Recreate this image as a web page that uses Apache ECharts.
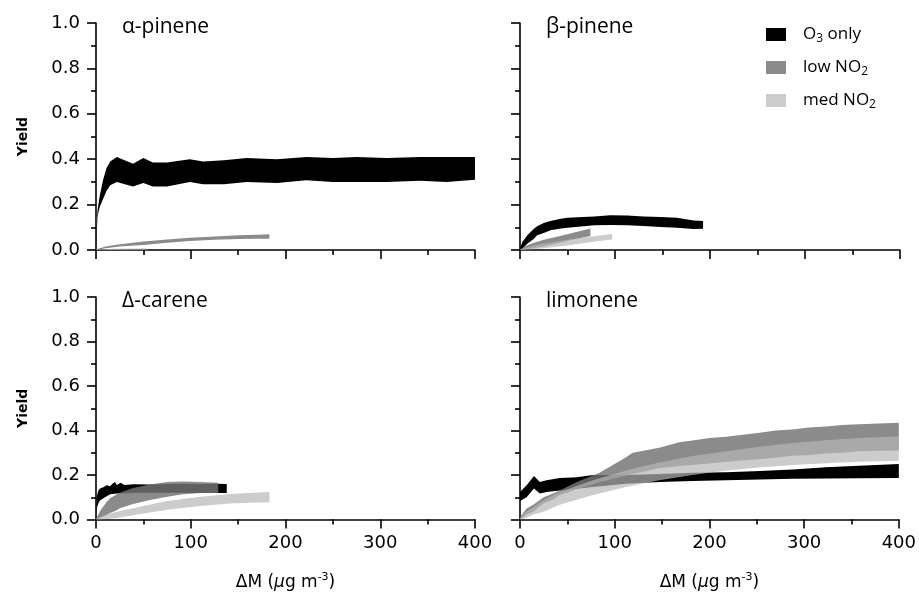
<!DOCTYPE html>
<html>
<head>
<meta charset="utf-8">
<script src="https://cdn.jsdelivr.net/npm/echarts@6/dist/echarts.min.js"></script>
<style>
  html, body { margin: 0; padding: 0; background: #fff; }
  #chart { width: 919px; height: 592px; }
</style>
</head>
<body>
<div id="chart"></div>
<script>
// each band point: [ΔM, lower yield, upper yield]
const alphaO3 = [[0,0,0.03],[1.5,0.14,0.17],[2.5,0.165,0.2],[4,0.19,0.24],[7.5,0.225,0.31],[11,0.26,0.36],[15,0.285,0.39],[22,0.30,0.41],[39,0.28,0.38],[50,0.295,0.405],[60,0.28,0.385],[75,0.28,0.385],[99,0.30,0.40],[113,0.29,0.39],[135,0.29,0.395],[159,0.30,0.405],[191,0.295,0.40],[222,0.307,0.41],[250,0.30,0.405],[275,0.30,0.41],[307,0.30,0.405],[342,0.305,0.41],[370,0.30,0.41],[400,0.31,0.41]];
const alphaLow = [[0,0,0.002],[10,0.008,0.015],[25,0.015,0.025],[50,0.022,0.037],[75,0.032,0.046],[99,0.04,0.054],[125,0.045,0.06],[150,0.048,0.065],[170,0.05,0.067],[183,0.05,0.069]];
const alphaMed = [[0,0,0.002],[20,0,0.006],[54,0.001,0.008]];

const betaO3 = [[0,0,0.01],[2.5,0.006,0.035],[7.7,0.028,0.065],[14.7,0.05,0.094],[18,0.065,0.105],[25,0.075,0.119],[32,0.087,0.128],[43,0.095,0.138],[50,0.098,0.142],[78,0.109,0.148],[95,0.11,0.153],[113,0.109,0.152],[130,0.106,0.148],[148,0.101,0.145],[165,0.098,0.142],[183,0.093,0.13],[192.7,0.094,0.128]];
const betaLow = [[0,0,0.003],[10,0.005,0.025],[25,0.015,0.045],[40,0.03,0.06],[55,0.045,0.075],[74,0.062,0.095]];
const betaMed = [[0,0,0.002],[20,0.005,0.025],[50,0.02,0.045],[75,0.035,0.06],[97,0.046,0.07]];

const careneO3 = [[0,0,0.02],[0.7,0.05,0.1],[2.5,0.073,0.13],[4.2,0.085,0.139],[7.7,0.095,0.145],[11.3,0.105,0.154],[15,0.113,0.15],[17,0.115,0.16],[20,0.116,0.168],[22,0.117,0.155],[26,0.117,0.165],[30,0.118,0.155],[40,0.12,0.158],[57,0.12,0.157],[75,0.12,0.16],[92,0.12,0.161],[110,0.119,0.16],[127,0.119,0.161],[138,0.119,0.16]];
const careneLow = [[0,0,0.002],[4.2,0.007,0.037],[11.3,0.02,0.08],[15,0.029,0.095],[22,0.042,0.113],[25,0.051,0.12],[39,0.07,0.142],[57,0.088,0.157],[75,0.102,0.168],[92,0.113,0.171],[110,0.119,0.168],[129,0.119,0.165]];
const careneMed = [[0,0,0.002],[11.3,0.002,0.022],[22,0.007,0.035],[39,0.019,0.051],[75,0.044,0.083],[110,0.061,0.102],[145,0.073,0.116],[183,0.078,0.124]];

const limoO3 = [[0,0.083,0.124],[7,0.10,0.154],[14.7,0.139,0.195],[21,0.117,0.168],[28,0.124,0.176],[42,0.13,0.186],[60,0.138,0.19],[77,0.146,0.2],[112,0.161,0.2],[147,0.168,0.205],[182,0.173,0.21],[218,0.176,0.212],[253,0.18,0.218],[288,0.183,0.225],[323,0.184,0.235],[358,0.185,0.242],[400,0.186,0.249]];
const limoLow = [[0,0,0.01],[7,0.022,0.05],[14,0.035,0.066],[25,0.073,0.1],[35,0.09,0.117],[42,0.11,0.13],[60,0.136,0.168],[84,0.168,0.21],[88,0.172,0.22],[112,0.198,0.28],[119,0.205,0.30],[147,0.23,0.322],[168,0.24,0.347],[182,0.245,0.355],[200,0.252,0.366],[218,0.259,0.372],[235,0.265,0.381],[253,0.271,0.39],[270,0.278,0.40],[288,0.286,0.405],[305,0.29,0.414],[323,0.297,0.418],[340,0.30,0.425],[358,0.307,0.428],[400,0.31,0.435]];
const limoMed = [[0,0,0.005],[7,0.008,0.037],[14,0.022,0.055],[25,0.035,0.088],[42,0.066,0.124],[77,0.11,0.176],[112,0.146,0.22],[147,0.176,0.256],[182,0.2,0.285],[218,0.22,0.307],[253,0.234,0.327],[288,0.245,0.344],[323,0.253,0.356],[358,0.259,0.366],[400,0.264,0.373]];

const panelNames = ['α-pinene', 'β-pinene', 'Δ-carene', 'limonene'];
const seriesNames = ['O3 only', 'low NO2', 'med NO2'];

const bands = [
  [alphaO3, alphaLow, alphaMed],
  [betaO3, betaLow, betaMed],
  [careneO3, careneLow, careneMed],
  [limoO3, limoLow, limoMed]
];
const colors = ['#000000', 'rgba(116,116,116,0.83)', 'rgba(182,182,182,0.7)'];

const grids = [
  { left: 96, top: 23, width: 379, height: 227 },
  { left: 520, top: 23, width: 380, height: 227 },
  { left: 96, top: 297, width: 379, height: 228 },
  { left: 520, top: 297, width: 380, height: 228 }
];

const labelFont = 'DejaVu Sans';
const textFont = 'Open Sans';

function bandSeries(name, pts, idx, color) {
  return {
    type: 'custom',
    name: name,
    xAxisIndex: idx,
    yAxisIndex: idx,
    data: pts,
    encode: { x: 0, y: [1, 2] },
    itemStyle: { color: color },
    silent: true,
    renderItem: function (params, api) {
      if (params.dataIndex !== 0) return;
      const upper = pts.map(p => api.coord([p[0], p[2]]));
      const lower = pts.map(p => api.coord([p[0], p[1]])).reverse();
      return {
        type: 'polygon',
        shape: { points: upper.concat(lower) },
        style: { fill: color }
      };
    }
  };
}

const axisLine = { show: true, onZero: false, lineStyle: { color: '#000', width: 1.6 } };
const axisTick = { show: true, inside: false, length: 9, lineStyle: { color: '#000', width: 1.6 } };
const minorTick = { show: true, splitNumber: 2, length: 5, lineStyle: { color: '#000', width: 1.6 } };

const xAxes = grids.map((g, i) => ({
  type: 'value', gridIndex: i, min: 0, max: 400, interval: 100,
  axisLine: axisLine, axisTick: axisTick, minorTick: minorTick,
  splitLine: { show: false },
  axisLabel: { show: i >= 2, fontFamily: labelFont, fontSize: 18, color: '#000', margin: 15 },
  name: i >= 2 ? '{n|ΔM (}{i|μ}{n|g m}{s|-3}{n|)}' : '',
  nameLocation: 'middle', nameGap: 52,
  nameTextStyle: {
    rich: {
      n: { fontFamily: labelFont, fontSize: 17, color: '#000' },
      i: { fontFamily: labelFont, fontSize: 17, fontStyle: 'italic', color: '#000' },
      s: { fontFamily: labelFont, fontSize: 11, color: '#000', padding: [0, 0, 11, 0] }
    }
  }
}));

const yAxes = grids.map((g, i) => ({
  type: 'value', gridIndex: i, min: 0, max: 1, interval: 0.2,
  axisLine: axisLine, axisTick: axisTick, minorTick: minorTick,
  splitLine: { show: false },
  axisLabel: {
    show: i % 2 === 0, fontFamily: labelFont, fontSize: 18, color: '#000', margin: 16,
    formatter: v => v.toFixed(1)
  },
  name: i % 2 === 0 ? 'Yield' : '',
  nameLocation: 'middle', nameGap: 66,
  nameTextStyle: { fontFamily: labelFont, fontSize: 14, fontWeight: 'bold', color: '#000' }
}));

const series = [];
bands.forEach((set, i) => {
  set.forEach((pts, j) => series.push(bandSeries(seriesNames[j], pts, i, colors[j])));
});

const titles = panelNames.map((t, i) => ({
  text: t,
  left: grids[i].left + 26,
  top: grids[i].top - 6,
  padding: 0,
  textStyle: { fontFamily: textFont, fontSize: 21, fontWeight: 'normal', color: '#000' }
}));

const legendLabels = {
  'O3 only': '{a|O}{s|3}{a| only}',
  'low NO2': '{a|low NO}{s|2}',
  'med NO2': '{a|med NO}{s|2}'
};

const chart = echarts.init(document.getElementById('chart'), null, { renderer: 'canvas' });
chart.setOption({
  animation: false,
  backgroundColor: '#fff',
  title: titles,
  grid: grids,
  xAxis: xAxes,
  yAxis: yAxes,
  legend: {
    data: seriesNames,
    orient: 'vertical',
    left: 766, top: 26,
    padding: 0,
    itemWidth: 20, itemHeight: 13, itemGap: 14,
    icon: 'rect',
    selectedMode: false,
    formatter: n => legendLabels[n],
    textStyle: {
      padding: [0, 0, 0, 12],
      rich: {
        a: { fontFamily: textFont, fontSize: 17, color: '#000' },
        s: { fontFamily: textFont, fontSize: 12, color: '#000', padding: [9, 0, 0, 0] }
      }
    }
  },
  series: series
});
</script>
</body>
</html>
